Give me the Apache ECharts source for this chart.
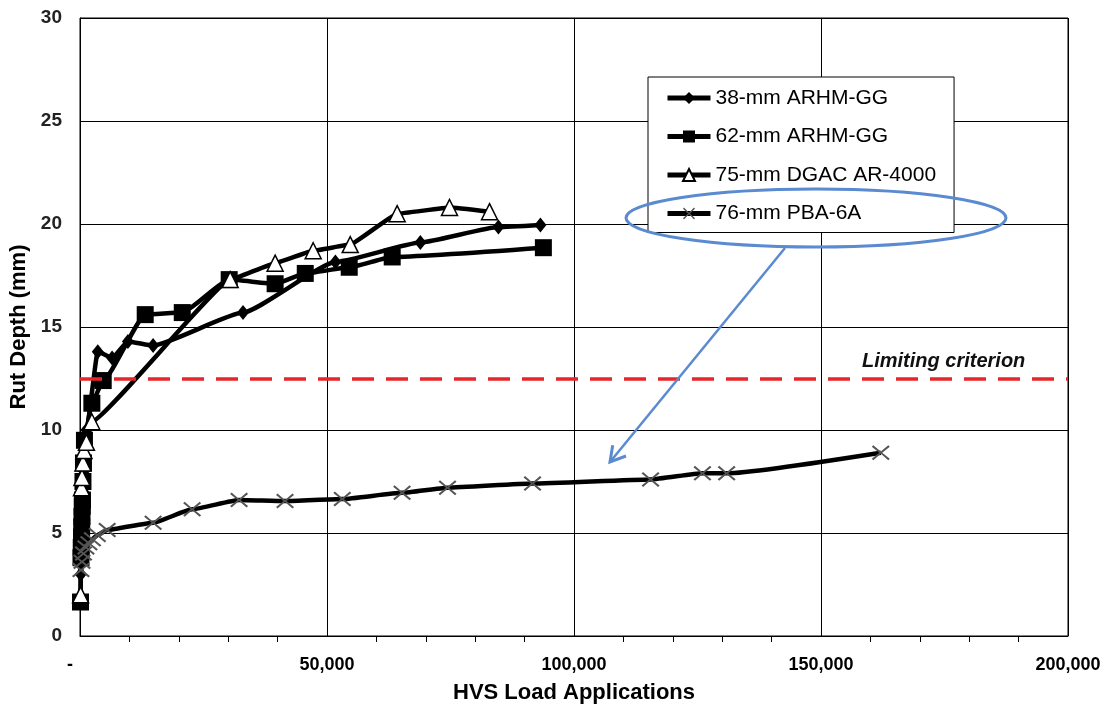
<!DOCTYPE html>
<html><head><meta charset="utf-8">
<script src="https://cdn.jsdelivr.net/npm/echarts@6/dist/echarts.min.js"></script>
<style>html,body{margin:0;padding:0;background:#fff}#c{width:1106px;height:707px}</style>
</head><body><div id="c"></div>
<script>
var seriesNames = ['38-mm ARHM-GG', '62-mm ARHM-GG', '75-mm DGAC AR-4000', '76-mm PBA-6A'];
var xTicks = [0, 50000, 100000, 150000, 200000];
var yTicks = [0, 5, 10, 15, 20, 25, 30];
var limitValue = 12.5;
var limitLabel = 'Limiting criterion';

var arhm38 = [[150,3.0],[250,3.5],[350,4.2],[450,5.2],[550,6.0],[650,7.0],[800,8.0],[1000,9.2],[1300,10.0],
  [3600,13.8],[6500,13.5],[9700,14.3],[14800,14.1],[33000,15.7],[51700,18.15],[68900,19.1],[84700,19.85],[93200,19.95]];
var arhm62 = [[100,1.65],[200,3.8],[250,4.3],[300,4.8],[350,5.3],[400,5.8],[450,6.3],[500,6.6],[600,7.5],[700,8.4],[900,9.5],
  [2400,11.3],[4700,12.4],[13200,15.6],[20700,15.7],[30200,17.3],[39500,17.1],[45600,17.6],[54500,17.9],[63200,18.4],[93800,18.85]];
var dgac75 = [[120,2.0],[300,7.2],[400,7.7],[600,8.4],[800,9.0],[1300,9.4],[2400,10.4],
  [30400,17.3],[39500,18.1],[47200,18.7],[54700,19.0],[64200,20.5],[74800,20.8],[82900,20.6]];
var pba76 = [[200,3.2],[400,3.6],[700,4.0],[1200,4.3],[1800,4.5],[2500,4.7],[3500,4.9],[5500,5.15],[14800,5.5],
  [22700,6.15],[32200,6.6],[41500,6.55],[53100,6.65],[65200,6.95],[74400,7.2],[91600,7.4],[115500,7.6],[126000,7.9],[130900,7.9],[162100,8.9]];

var FONT = "'Liberation Sans', Arial, Helvetica, sans-serif";
var crossPath = 'path://M0,1L1,0L6,4.3L11,0L12,1L7,5L12,9L11,10L6,5.7L1,10L0,9L5,5Z';

function lineSeries(name, data, symbol, size, itemStyle, z, smooth) {
  return {
    name: name, type: 'line', data: data, symbol: symbol, symbolSize: size,
    smooth: smooth, smoothMonotone: 'x',
    lineStyle: { color: '#000', width: 4.5 },
    itemStyle: itemStyle, z: z
  };
}

var chart = echarts.init(document.getElementById('c'), null, { renderer: 'canvas' });
var option = {
  animation: false,
  backgroundColor: '#fff',
  grid: { left: 80, right: 38, top: 18, bottom: 71, show: true, borderColor: '#000', borderWidth: 1,
    containLabel: false, outerBoundsMode: 'none' },
  xAxis: {
    type: 'value', min: xTicks[0], max: xTicks[xTicks.length - 1], interval: xTicks[1] - xTicks[0],
    name: 'HVS Load Applications', nameLocation: 'middle', nameGap: 46,
    nameTextStyle: { fontFamily: FONT, fontWeight: 'bold', fontSize: 22, color: '#000' },
    axisLine: { lineStyle: { color: '#000', width: 1 } },
    axisTick: { show: false },
    minorTick: { show: true, splitNumber: 5, length: 6, lineStyle: { color: '#000', width: 1 } },
    axisLabel: { margin: 20, fontFamily: FONT, fontWeight: 'bold', fontSize: 18, color: '#000',
      formatter: function (v) { return v === 0 ? '-    ' : v.toLocaleString('en-US'); } },
    splitLine: { show: true, lineStyle: { color: '#000', width: 1 } }
  },
  yAxis: {
    type: 'value', min: yTicks[0], max: yTicks[yTicks.length - 1], interval: yTicks[1] - yTicks[0],
    name: 'Rut Depth (mm)', nameLocation: 'middle', nameGap: 48,
    nameTextStyle: { fontFamily: FONT, fontWeight: 'bold', fontSize: 22, color: '#000' },
    axisLine: { show: true, lineStyle: { color: '#000', width: 1 } },
    axisTick: { show: false },
    axisLabel: { margin: 18, fontFamily: FONT, fontWeight: 'bold', fontSize: 19, color: '#222' },
    splitLine: { show: true, lineStyle: { color: '#000', width: 1 } }
  },
  legend: {
    orient: 'vertical', left: 648, top: 77,
    data: seriesNames,
    backgroundColor: '#fff', borderColor: '#000', borderWidth: 1,
    padding: [9, 18, 7, 17], itemGap: 14.5, itemWidth: 43, itemHeight: 15,
    lineStyle: { width: 5 },
    textStyle: { fontFamily: FONT, fontSize: 21, color: '#000', lineHeight: 24 }
  },
  series: [
    lineSeries(seriesNames[0], arhm38, 'diamond', [12, 15], { color: '#000' }, 2, 0.15),
    lineSeries(seriesNames[1], arhm62, 'rect', 17, { color: '#000' }, 3, 0.15),
    lineSeries(seriesNames[2], dgac75, 'triangle', 16, { color: '#fff', borderColor: '#000', borderWidth: 1.5 }, 4, 0.08),
    Object.assign(lineSeries(seriesNames[3], pba76, crossPath, [18, 15], { color: '#555' }, 5, 0.15), {
      markLine: {
        silent: true, symbol: ['none', 'none'],
        label: { show: false },
        lineStyle: { color: '#e8262a', width: 3.5, type: [22, 12] },
        data: [{ yAxis: limitValue }]
      }
    })
  ],
  graphic: [
    { type: 'text', left: 862, top: 351, z: 10,
      style: { text: limitLabel, fontFamily: FONT, fontSize: 20, fontWeight: 'bold', fontStyle: 'italic', fill: '#111' } },
    { type: 'ellipse', z: 20, shape: { cx: 816, cy: 218, rx: 190, ry: 29 },
      style: { fill: 'none', stroke: '#5a8ad0', lineWidth: 3 } },
    { type: 'line', z: 20, shape: { x1: 785, y1: 248, x2: 610, y2: 462 },
      style: { stroke: '#5a8ad0', lineWidth: 2.5 } },
    { type: 'polyline', z: 20, shape: { points: [[626, 456], [610, 462], [612.7, 445.2]] },
      style: { fill: 'none', stroke: '#5a8ad0', lineWidth: 3 } }
  ]
};
chart.setOption(option);
</script></body></html>
